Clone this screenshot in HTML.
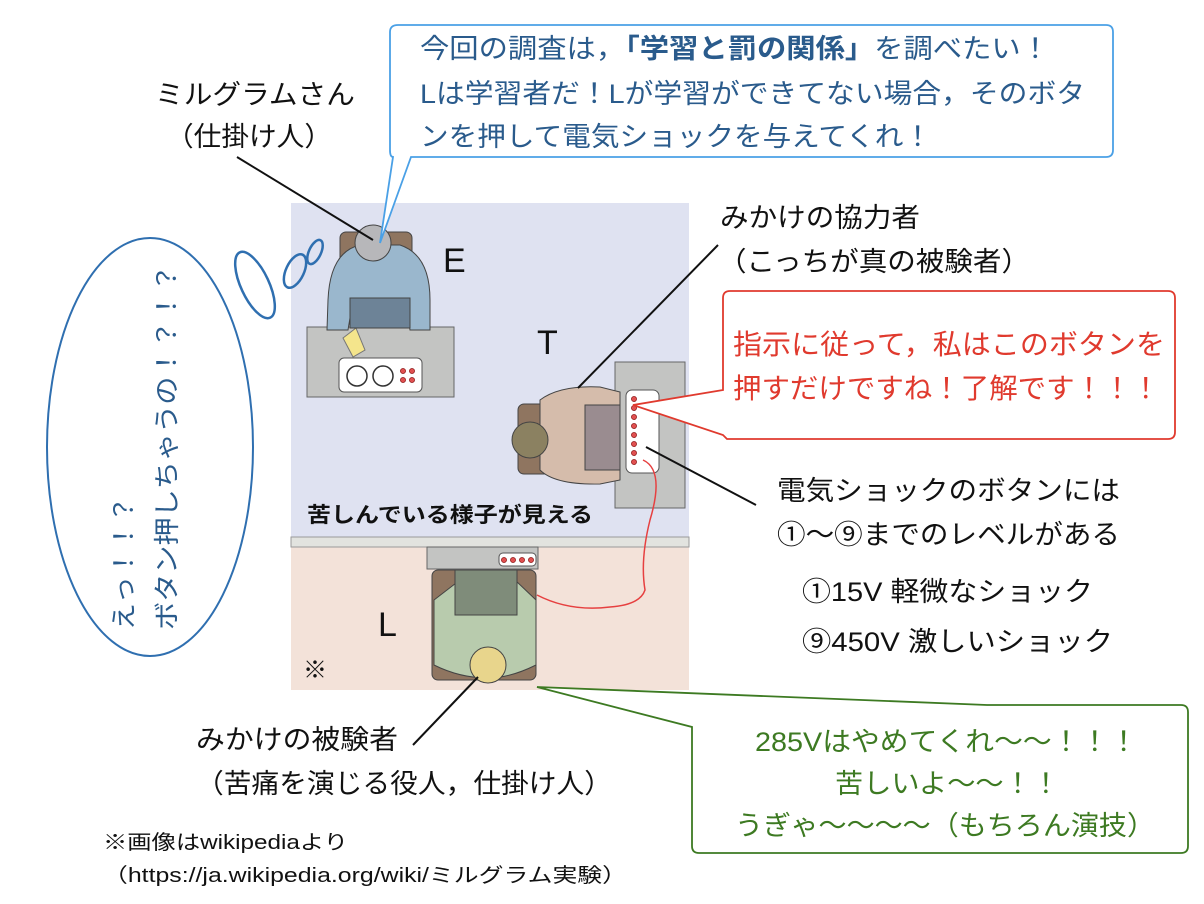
<!DOCTYPE html>
<html><head><meta charset="utf-8">
<style>
html,body{margin:0;padding:0;background:#fff;}
svg{display:block;}
text{font-family:"Liberation Sans","Noto Sans CJK JP",sans-serif;}
</style></head>
<body>
<svg width="1204" height="904" viewBox="0 0 1204 904" xmlns="http://www.w3.org/2000/svg">
<rect width="1204" height="904" fill="#fff"/>
<rect x="291" y="203" width="398" height="335" fill="#dfe2f1"/>
<rect x="291" y="547" width="398" height="143" fill="#f3e2d9"/>
<rect x="291" y="537" width="398" height="10" fill="#e2e3df" stroke="#9a9a9a" stroke-width="1"/>

<rect x="307" y="327" width="147" height="70" fill="#c3c4c2" stroke="#666" stroke-width="1"/>
<rect x="339" y="358" width="83" height="34" rx="5" fill="#fff" stroke="#555"/>
<circle cx="357" cy="376" r="10" fill="#fff" stroke="#333" stroke-width="1.5"/>
<circle cx="383" cy="376" r="10" fill="#fff" stroke="#333" stroke-width="1.5"/>
<g fill="#e05050" stroke="#700" stroke-width="0.6"><circle cx="403" cy="371" r="2.6"/><circle cx="412" cy="371" r="2.6"/><circle cx="403" cy="380" r="2.6"/><circle cx="412" cy="380" r="2.6"/></g>
<polygon points="343,338 356,328 365,350 353,357" fill="#f4e58c" stroke="#777"/>
<rect x="340" y="232" width="72" height="50" rx="6" fill="#8f7560" stroke="#444"/>
<path d="M328 300 Q330 252 360 245 L400 245 Q430 255 430 300 L430 330 L410 330 L408 318 L350 318 L348 330 L327 330 Z" fill="#9ab7cd" stroke="#444"/>
<rect x="350" y="298" width="60" height="30" fill="#6d8397" stroke="#444"/>
<circle cx="373" cy="243" r="18" fill="#b7b7ba" stroke="#444"/>
<text x="443" y="272" font-size="34" fill="#111">E</text>

<rect x="615" y="362" width="70" height="146" fill="#c3c4c2" stroke="#666"/>
<rect x="626" y="390" width="33" height="83" rx="6" fill="#fff" stroke="#555"/>
<g fill="#e05050" stroke="#700" stroke-width="0.6">
<circle cx="634" cy="399" r="2.6"/><circle cx="634" cy="408" r="2.6"/><circle cx="634" cy="417" r="2.6"/><circle cx="634" cy="426" r="2.6"/><circle cx="634" cy="435" r="2.6"/><circle cx="634" cy="444" r="2.6"/><circle cx="634" cy="453" r="2.6"/><circle cx="634" cy="462" r="2.6"/></g>
<rect x="518" y="404" width="35" height="70" rx="6" fill="#8f7560" stroke="#444"/>
<path d="M540 400 Q560 385 600 387 L620 392 L620 480 L600 484 Q555 485 540 470 Z" fill="#d5bcab" stroke="#444"/>
<rect x="585" y="405" width="35" height="65" fill="#9a8c90" stroke="#444"/>
<circle cx="530" cy="440" r="18" fill="#8b8161" stroke="#444"/>
<text x="537" y="354" font-size="34" fill="#111">T</text>

<rect x="427" y="547" width="111" height="22" fill="#c3c4c2" stroke="#666"/>
<rect x="499" y="553" width="37" height="13" rx="4" fill="#fff" stroke="#555"/>
<g fill="#e05050" stroke="#700" stroke-width="0.6"><circle cx="504" cy="560" r="2.6"/><circle cx="513" cy="560" r="2.6"/><circle cx="522" cy="560" r="2.6"/><circle cx="531" cy="560" r="2.6"/></g>
<rect x="432" y="570" width="104" height="110" rx="6" fill="#8f7560" stroke="#444"/>
<path d="M434 600 L460 580 L515 580 L536 600 L536 665 Q510 678 488 678 Q460 678 434 665 Z" fill="#b8cbad" stroke="#444"/>
<rect x="455" y="570" width="62" height="45" fill="#7f8c7a" stroke="#444"/>
<circle cx="488" cy="665" r="18" fill="#e8d58c" stroke="#444"/>
<text x="378" y="636" font-size="34" fill="#111">L</text>
<text x="303" y="678" font-size="24" fill="#111">※</text>

<text x="307" y="522" font-size="21" font-weight="bold" fill="#111" textLength="286" lengthAdjust="spacingAndGlyphs">苦しんでいる様子が見える</text>

<path d="M643 460 Q665 470 650 520 Q640 560 645 590 Q640 605 610 607 Q570 612 537 595" fill="none" stroke="#e64040" stroke-width="1.5"/>

<g stroke="#111" stroke-width="2">
<line x1="237" y1="157" x2="373" y2="240"/>
<line x1="718" y1="245" x2="578" y2="388"/>
<line x1="756" y1="505" x2="646" y2="447"/>
<line x1="413" y1="745" x2="478" y2="677"/>
</g>

<g font-size="27" fill="#111" lengthAdjust="spacingAndGlyphs">
<text x="155" y="104" textLength="200" lengthAdjust="spacingAndGlyphs">ミルグラムさん</text>
<text x="166" y="146" textLength="166" lengthAdjust="spacingAndGlyphs">（仕掛け人）</text>
<text x="720" y="227" textLength="200" lengthAdjust="spacingAndGlyphs">みかけの協力者</text>
<text x="718" y="271" textLength="312" lengthAdjust="spacingAndGlyphs">（こっちが真の被験者）</text>
<text x="777" y="500" textLength="343" lengthAdjust="spacingAndGlyphs">電気ショックのボタンには</text>
<text x="777" y="544" textLength="343" lengthAdjust="spacingAndGlyphs">①～⑨までのレベルがある</text>
<text x="802" y="601" textLength="291" lengthAdjust="spacingAndGlyphs">①15V 軽微なショック</text>
<text x="802" y="651" textLength="311" lengthAdjust="spacingAndGlyphs">⑨450V 激しいショック</text>
<text x="196" y="749" textLength="202" lengthAdjust="spacingAndGlyphs">みかけの被験者</text>
<text x="196" y="793" textLength="416" lengthAdjust="spacingAndGlyphs">（苦痛を演じる役人，仕掛け人）</text>
</g>
<text x="103" y="849" font-size="20" fill="#111" textLength="245" lengthAdjust="spacingAndGlyphs">※画像はwikipediaより</text>
<text x="103" y="882" font-size="20" fill="#111" textLength="524" lengthAdjust="spacingAndGlyphs">（https://ja.wikipedia.org/wiki/ミルグラム実験）</text>

<path d="M398 25 L1106 25 Q1113 25 1113 32 L1113 150 Q1113 157 1106 157 L411 157 L380 243 L393 157 Q390 157 390 150 L390 32 Q390 25 398 25 Z" fill="#fff" stroke="#4aa0e6" stroke-width="1.8"/>
<g font-size="27" fill="#2a5b8c">
<text x="420" y="58" textLength="630" lengthAdjust="spacingAndGlyphs">今回の調査は，<tspan font-weight="bold">「学習と罰の関係」</tspan>を調べたい！</text>
<text x="420" y="103" textLength="665" lengthAdjust="spacingAndGlyphs">Lは学習者だ！Lが学習ができてない場合，そのボタ</text>
<text x="420" y="146" textLength="512" lengthAdjust="spacingAndGlyphs">ンを押して電気ショックを与えてくれ！</text>
</g>

<path d="M730 291 L1168 291 Q1175 291 1175 298 L1175 432 Q1175 439 1168 439 L727 439 L723 435 L633 405 L723 390 L723 298 Q723 291 730 291 Z" fill="#fff" stroke="#e03a2e" stroke-width="1.8"/>
<g font-size="28" fill="#e03a2e">
<text x="733" y="354" textLength="432" lengthAdjust="spacingAndGlyphs">指示に従って，私はこのボタンを</text>
<text x="733" y="398" textLength="427" lengthAdjust="spacingAndGlyphs">押すだけですね！了解です！！！</text>
</g>

<path d="M987 705 L1181 705 Q1188 705 1188 712 L1188 846 Q1188 853 1181 853 L699 853 Q692 853 692 846 L692 727 L537 687 Z" fill="#fff" stroke="#3d7a22" stroke-width="1.8"/>
<g font-size="27" fill="#3d7a22">
<text x="755" y="751" textLength="383" lengthAdjust="spacingAndGlyphs">285Vはやめてくれ～～！！！</text>
<text x="835" y="793" textLength="225" lengthAdjust="spacingAndGlyphs">苦しいよ～～！！</text>
<text x="735" y="835" textLength="420" lengthAdjust="spacingAndGlyphs">うぎゃ～～～～（もちろん演技）</text>
</g>

<ellipse cx="150" cy="447" rx="103" ry="209" fill="#fff" stroke="#2f6fb0" stroke-width="2"/>
<ellipse cx="255" cy="285" rx="14" ry="36" transform="rotate(-25 255 285)" fill="none" stroke="#2f6fb0" stroke-width="2.5"/>
<ellipse cx="295" cy="271" rx="9" ry="18" transform="rotate(25 295 271)" fill="none" stroke="#2f6fb0" stroke-width="2.5"/>
<ellipse cx="315" cy="252" rx="6" ry="13" transform="rotate(25 315 252)" fill="none" stroke="#2f6fb0" stroke-width="2.5"/>
<g font-size="26" fill="#2a5b8c" transform="rotate(-90)">
<text x="-630" y="133" textLength="134" lengthAdjust="spacingAndGlyphs">えっ！！？</text>
<text x="-630" y="176" textLength="366" lengthAdjust="spacingAndGlyphs">ボタン押しちゃうの！？！？</text>
</g>
</svg>
</body></html>
